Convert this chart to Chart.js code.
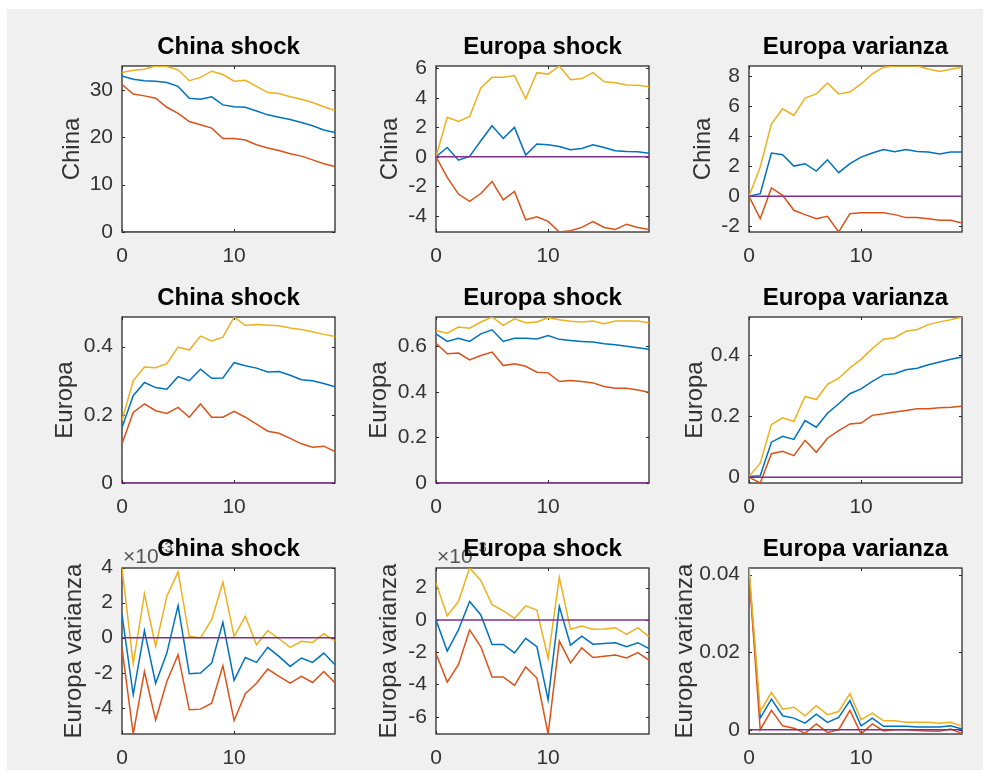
<!DOCTYPE html>
<html>
<head>
<meta charset="utf-8">
<script src="https://cdn.jsdelivr.net/npm/chart.js@4.4.1/dist/chart.umd.min.js"></script>
<style>
  html, body { margin: 0; padding: 0; background: #ffffff; }
  #fig { position: absolute; left: 7px; top: 9px; width: 976px; height: 761px; background: #f0f0f0; }
  canvas { position: absolute; left: 0; top: 0; }
</style>
</head>
<body>
<div id="fig"></div>
<div id="wrap"></div>
<script>
// ---------------- DATA ----------------
const steps = [0,1,2,3,4,5,6,7,8,9,10,11,12,13,14,15,16,17,18,19];
const zeroLine = [0,0,0,0,0,0,0,0,0,0,0,0,0,0,0,0,0,0,0,0];

const columnTitles = ["China shock", "Europa shock", "Europa varianza"];
const rowLabels = ["China", "Europa", "Europa varianza"];
const xTickValues = [0, 10];

// Row 1: China response
const chinaChinaMedian = [32.9,32.2,31.9,31.8,31.5,30.7,28.2,28.0,28.5,26.8,26.4,26.3,25.5,24.7,24.2,23.7,23.1,22.4,21.5,21.0];
const chinaChinaLower  = [31.1,29.1,28.7,28.2,26.3,25.0,23.3,22.6,21.9,19.7,19.7,19.4,18.4,17.7,17.2,16.5,16.0,15.2,14.4,13.8];
const chinaChinaUpper  = [33.6,34.1,34.3,35.0,34.9,34.2,31.9,32.6,33.9,33.2,31.8,32.0,30.7,29.4,29.2,28.5,28.0,27.3,26.4,25.6];
const chinaChinaTicks  = [0,10,20,30];

const euShockChinaMedian = [0,0.63,-0.23,0.02,1.08,2.1,1.24,1.99,0.11,0.86,0.81,0.7,0.47,0.56,0.81,0.63,0.41,0.36,0.34,0.23];
const euShockChinaLower  = [0,-1.4,-2.53,-3.03,-2.49,-1.67,-2.92,-2.35,-4.27,-4.07,-4.38,-5.1,-5.02,-4.79,-4.4,-4.79,-4.93,-4.57,-4.79,-4.93];
const euShockChinaUpper  = [0,2.67,2.4,2.73,4.66,5.38,5.38,5.5,3.93,5.7,5.6,6.15,5.22,5.3,5.7,5.08,5.02,4.86,4.84,4.75];
const euShockChinaTicks  = [-4,-2,0,2,4,6];

const euVarChinaMedian = [0,0.18,2.89,2.78,2.02,2.18,1.69,2.44,1.58,2.18,2.62,2.89,3.13,2.98,3.13,3.0,2.96,2.82,2.96,2.96];
const euVarChinaLower  = [0,-1.49,0.56,0.07,-0.93,-1.22,-1.49,-1.33,-2.38,-1.16,-1.09,-1.09,-1.09,-1.22,-1.42,-1.42,-1.49,-1.6,-1.6,-1.78];
const euVarChinaUpper  = [0,1.96,4.84,5.84,5.4,6.56,6.84,7.56,6.84,6.96,7.5,8.18,8.62,8.7,8.7,8.7,8.5,8.33,8.49,8.62];
const euVarChinaTicks  = [-2,0,2,4,6,8];

// Row 2: Europa response
const chShockEuMedian = [0.163,0.256,0.295,0.28,0.275,0.312,0.3,0.334,0.307,0.308,0.353,0.344,0.337,0.326,0.327,0.316,0.303,0.3,0.292,0.282];
const chShockEuLower  = [0.115,0.207,0.232,0.212,0.204,0.222,0.193,0.232,0.193,0.193,0.21,0.193,0.173,0.152,0.146,0.131,0.115,0.105,0.108,0.092];
const chShockEuUpper  = [0.183,0.3,0.34,0.338,0.35,0.399,0.39,0.431,0.417,0.428,0.487,0.462,0.465,0.463,0.461,0.455,0.45,0.444,0.436,0.43];
const chShockEuTicks  = [0,0.2,0.4];

const euShockEuMedian = [0.654,0.621,0.635,0.621,0.654,0.672,0.621,0.635,0.635,0.632,0.647,0.63,0.625,0.621,0.618,0.611,0.606,0.6,0.593,0.586];
const euShockEuLower  = [0.613,0.567,0.57,0.54,0.559,0.574,0.515,0.523,0.512,0.486,0.483,0.445,0.449,0.445,0.439,0.423,0.416,0.416,0.408,0.398];
const euShockEuUpper  = [0.669,0.657,0.684,0.679,0.706,0.728,0.691,0.72,0.703,0.706,0.725,0.716,0.709,0.706,0.71,0.698,0.71,0.71,0.71,0.703];
const euShockEuTicks  = [0,0.2,0.4,0.6];

const euVarEuMedian = [0.002,0.005,0.115,0.134,0.124,0.186,0.164,0.21,0.241,0.274,0.29,0.315,0.336,0.34,0.353,0.358,0.369,0.378,0.387,0.395];
const euVarEuLower  = [0,-0.019,0.077,0.085,0.071,0.121,0.082,0.128,0.153,0.175,0.178,0.203,0.208,0.214,0.219,0.225,0.225,0.228,0.23,0.233];
const euVarEuUpper  = [0.002,0.046,0.173,0.195,0.183,0.265,0.255,0.305,0.325,0.359,0.387,0.422,0.453,0.458,0.479,0.485,0.501,0.51,0.517,0.526];
const euVarEuTicks  = [0,0.2,0.4];

// Row 3: Europa varianza response (first two panels in units of 10^-3)
const chShockVarMedian = [1.3,-3.26,0.4,-2.6,-0.88,1.83,-2.06,-2.02,-1.45,0.88,-2.44,-1.13,-1.41,-0.55,-1.07,-1.64,-1.16,-1.41,-0.88,-1.55];
const chShockVarLower  = [-0.6,-5.5,-1.93,-4.7,-2.5,-0.97,-4.12,-4.08,-3.74,-1.6,-4.73,-3.2,-2.6,-1.79,-2.21,-2.6,-2.21,-2.56,-1.93,-2.58];
const chShockVarUpper  = [3.98,-1.49,2.5,-0.5,2.37,3.76,0.08,-0.02,1.03,3.17,0.08,1.22,-0.4,0.4,-0.06,-0.55,-0.21,-0.27,0.23,-0.2];
const chShockVarTicks  = [-4,-2,0,2,4];

const euShockVarMedian = [0,-1.93,-0.62,1.14,0.31,-1.52,-1.52,-2.04,-1.14,-1.66,-4.95,0.83,-1.56,-1.0,-1.5,-1.46,-1.41,-1.66,-1.41,-1.77];
const euShockVarLower  = [-2.08,-3.85,-2.77,-0.62,-1.66,-3.53,-3.53,-4.05,-2.91,-3.6,-7.07,-1.31,-2.66,-1.73,-2.33,-2.25,-2.18,-2.35,-2.02,-2.49];
const euShockVarUpper  = [2.29,0.25,1.14,3.22,2.45,0.94,0.56,0.1,0.87,0.62,-2.39,2.64,-0.58,-0.37,-0.58,-0.56,-0.48,-0.89,-0.48,-1.04];
const euShockVarTicks  = [-6,-4,-2,0,2];

const euVarVarMedian = [0.041,0.003,0.0079,0.0036,0.003,0.0017,0.004,0.0019,0.0032,0.0075,0.001,0.003,0.0009,0.0009,0.0009,0.0007,0.0007,0.0007,0.001,0.0002];
const euVarVarLower  = [0.0404,0,0.005,0.001,0.0004,-0.0009,0.0015,-0.0007,0,0.005,-0.0011,0.0015,-0.0003,0,0,-0.0002,-0.0003,-0.0004,0.0002,-0.001];
const euVarVarUpper  = [0.0417,0.0047,0.0096,0.0053,0.0058,0.0036,0.0062,0.0039,0.0047,0.0093,0.0026,0.0043,0.0023,0.0023,0.0019,0.0019,0.0019,0.0017,0.0019,0.0009];
const euVarVarTicks  = [0,0.02,0.04];

const exponentLabels = [null,null,null,null,null,null,"-3","-3",null];

// ---------------- LAYOUT / STYLE ----------------
const PAGE_W = 987, PAGE_H = 774;
const colLeft = [122, 436, 749];
const rowTop = [66, 317, 568];
const plotW = 213, plotH = 166;
const yLabelDist = [50,46,46,57,57,54,48,47,64];
const XAXIS_H = 40;
const FONT = '"Liberation Sans", Arial, Helvetica, sans-serif';
const TICK_COLOR = '#333333';
const TICK_SIZE = 21, LABEL_SIZE = 24, TITLE_SIZE = 24;
const COLORS = { median:'#0072BD', lower:'#D95319', upper:'#EDB120', zero:'#7E2F8E' };

const panels = [
  [chinaChinaMedian, chinaChinaLower, chinaChinaUpper, chinaChinaTicks],
  [euShockChinaMedian, euShockChinaLower, euShockChinaUpper, euShockChinaTicks],
  [euVarChinaMedian, euVarChinaLower, euVarChinaUpper, euVarChinaTicks],
  [chShockEuMedian, chShockEuLower, chShockEuUpper, chShockEuTicks],
  [euShockEuMedian, euShockEuLower, euShockEuUpper, euShockEuTicks],
  [euVarEuMedian, euVarEuLower, euVarEuUpper, euVarEuTicks],
  [chShockVarMedian, chShockVarLower, chShockVarUpper, chShockVarTicks],
  [euShockVarMedian, euShockVarLower, euShockVarUpper, euShockVarTicks],
  [euVarVarMedian, euVarVarLower, euVarVarUpper, euVarVarTicks]
];

const matlabBox = {
  id: 'matlabBox',
  beforeDraw(chart, args, opts) {
    const {ctx, chartArea: a} = chart;
    ctx.save();
    ctx.fillStyle = '#ffffff';
    ctx.fillRect(a.left, a.top, a.right - a.left, a.bottom - a.top);
    if (opts.exponent) {
      ctx.fillStyle = '#555555';
      ctx.textAlign = 'left';
      ctx.textBaseline = 'alphabetic';
      ctx.font = '21px ' + FONT;
      const base = '\u00D710';
      ctx.fillText(base, a.left + 1, a.top - 5);
      const w = ctx.measureText(base).width;
      ctx.font = '15px ' + FONT;
      ctx.fillText(opts.exponent, a.left + 2 + w, a.top - 16);
    }
    ctx.restore();
  },
  beforeDatasetsDraw(chart) {
    const {ctx, chartArea: a, scales} = chart;
    ctx.save();
    ctx.strokeStyle = '#2b2b2b';
    ctx.lineWidth = 1.3;
    ctx.strokeRect(a.left, a.top, a.right - a.left, a.bottom - a.top);
    ctx.lineWidth = 1;
    const tl = 3;
    ctx.beginPath();
    scales.y.ticks.forEach(t => {
      const p = Math.round(scales.y.getPixelForValue(t.value)) + 0.5;
      ctx.moveTo(a.left, p); ctx.lineTo(a.left + tl, p);
      ctx.moveTo(a.right, p); ctx.lineTo(a.right - tl, p);
    });
    scales.x.ticks.forEach(t => {
      const p = Math.round(scales.x.getPixelForValue(t.value)) + 0.5;
      ctx.moveTo(p, a.bottom); ctx.lineTo(p, a.bottom - tl);
      ctx.moveTo(p, a.top); ctx.lineTo(p, a.top + tl);
    });
    ctx.stroke();
    ctx.restore();
  }
};

function fmt(v) { return String(Math.round(v * 1e6) / 1e6); }

function makeSeries(vals) { return steps.map((s, i) => ({x: s, y: vals[i]})); }

const wrap = document.getElementById('wrap');
panels.forEach((p, idx) => {
  const r = Math.floor(idx / 3), c = idx % 3;
  const [med, low, up, yTicks] = p;
  const all = med.concat(low, up, zeroLine);
  const yMin = Math.min.apply(null, all);
  const yMax = Math.max.apply(null, all);
  const L = colLeft[c], T = rowTop[r];
  const yAxisW = yLabelDist[idx] + LABEL_SIZE * 1.2 / 2;
  const titlePadB = 4;
  const titleH = TITLE_SIZE * 1.2 + titlePadB;

  const cv = document.createElement('canvas');
  cv.width = PAGE_W; cv.height = PAGE_H;
  cv.style.width = PAGE_W + 'px'; cv.style.height = PAGE_H + 'px';
  wrap.appendChild(cv);

  const ds = (data, color, order) => ({
    data: makeSeries(data), borderColor: color, backgroundColor: color,
    borderWidth: 1.5, pointRadius: 0, tension: 0, fill: false, order: order
  });

  new Chart(cv, {
    type: 'line',
    data: {
      datasets: [
        ds(med, COLORS.median, 3),
        ds(low, COLORS.lower, 2),
        ds(up, COLORS.upper, 1),
        ds(zeroLine, COLORS.zero, 0)
      ]
    },
    plugins: [matlabBox],
    options: {
      responsive: false,
      animation: false,
      devicePixelRatio: 1,
      events: [],
      layout: {
        padding: {
          left: L - yAxisW,
          top: T - titleH,
          right: PAGE_W - (L + plotW),
          bottom: PAGE_H - (T + plotH) - XAXIS_H
        }
      },
      plugins: {
        legend: { display: false },
        tooltip: { enabled: false },
        title: {
          display: true,
          text: columnTitles[c],
          fullSize: false,
          color: '#000000',
          font: { family: FONT, size: TITLE_SIZE, weight: 'bold', lineHeight: 1.2 },
          padding: { top: 0, bottom: titlePadB }
        },
        matlabBox: { exponent: exponentLabels[idx] }
      },
      scales: {
        x: {
          type: 'linear',
          min: steps[0],
          max: steps[steps.length - 1],
          afterBuildTicks: s => { s.ticks = xTickValues.map(v => ({value: v})); },
          afterFit: s => { s.height = XAXIS_H; },
          grid: { display: false, drawTicks: false },
          border: { display: false },
          ticks: {
            autoSkip: false, maxRotation: 0, padding: 12,
            color: TICK_COLOR,
            font: { family: FONT, size: TICK_SIZE },
            callback: v => fmt(v)
          }
        },
        y: {
          type: 'linear',
          min: yMin,
          max: yMax,
          afterBuildTicks: s => { s.ticks = yTicks.map(v => ({value: v})); },
          afterFit: s => { s.width = yAxisW; },
          grid: { display: false, drawTicks: false },
          border: { display: false },
          ticks: {
            autoSkip: false, padding: 9,
            color: TICK_COLOR,
            font: { family: FONT, size: TICK_SIZE },
            callback: v => fmt(v)
          },
          title: {
            display: true,
            text: rowLabels[r],
            color: TICK_COLOR,
            font: { family: FONT, size: LABEL_SIZE, lineHeight: 1.2 },
            padding: { top: 0, bottom: 0 }
          }
        }
      }
    }
  });
});
</script>
</body>
</html>
